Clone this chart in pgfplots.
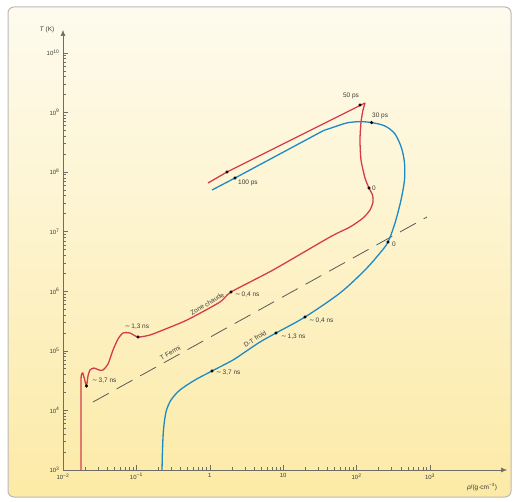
\documentclass[border=0pt]{standalone}
\usepackage{fontspec}
\setmainfont{Liberation Sans}
\newfontfamily\dejavu{DejaVu Sans}
\usepackage{pgfplots}
\pgfplotsset{compat=1.18}
\usetikzlibrary{arrows.meta}
\definecolor{redc}{RGB}{214,60,72}
\definecolor{bluec}{RGB}{30,138,196}
\definecolor{axc}{RGB}{110,110,100}
\definecolor{txt}{RGB}{60,60,55}
\definecolor{bgtop}{RGB}{254,251,238}
\definecolor{bgbot}{RGB}{252,234,166}
\newcommand{\ap}{{\dejavu ∼}\,}
\begin{document}
\begin{tikzpicture}[x=1pt,y=1pt]
\useasboundingbox (0,0) rectangle (517,501);
\fill[white] (0,0) rectangle (517,501);
\shade[top color=bgtop, bottom color=bgbot, rounded corners=6pt] (8,4) rectangle (511,494);
\draw[gray!55, line width=1pt, rounded corners=6pt] (8,4) rectangle (511,494);
\begin{axis}[
  scale only axis, width=444pt, height=440pt,
  at={(63pt,31pt)}, anchor=south west,
  xmode=log, ymode=log,
  xmin=1e-2, xmax=11190, ymin=1e3, ymax=2.415e10,
  axis x line=bottom, axis y line=left,
  axis line style={axc, line width=0.6pt, -{Latex[length=6pt,width=5pt]}},
  xtick={1e-2,1e-1,1,10,100,1000},
  xticklabels={10\textsuperscript{−2},10\textsuperscript{−1},1,10,10\textsuperscript{2},10\textsuperscript{3}},
  ytick={1e3,1e4,1e5,1e6,1e7,1e8,1e9,1e10},
  yticklabels={10\textsuperscript{3},10\textsuperscript{4},10\textsuperscript{5},10\textsuperscript{6},10\textsuperscript{7},10\textsuperscript{8},10\textsuperscript{9},10\textsuperscript{10}},
  minor xtick={2e-2,3e-2,4e-2,5e-2,6e-2,7e-2,8e-2,9e-2,0.2,0.3,0.4,0.5,0.6,0.7,0.8,0.9,2,3,4,5,6,7,8,9,20,30,40,50,60,70,80,90,200,300,400,500,600,700,800,900},
  minor ytick={2e3,3e3,4e3,5e3,6e3,7e3,8e3,9e3,2e4,3e4,4e4,5e4,6e4,7e4,8e4,9e4,2e5,3e5,4e5,5e5,6e5,7e5,8e5,9e5,2e6,3e6,4e6,5e6,6e6,7e6,8e6,9e6,2e7,3e7,4e7,5e7,6e7,7e7,8e7,9e7,2e8,3e8,4e8,5e8,6e8,7e8,8e8,9e8,2e9,3e9,4e9,5e9,6e9,7e9,8e9,9e9},
  tick align=inside, major tick length=5pt, minor tick length=3pt,
  tick style={axc, line width=0.5pt},
  tick label style={font=\fontsize{6}{7}\selectfont, text=txt},
  clip=false,
]
% T Fermi dashed line
\addplot[txt!85, line width=0.8pt, dash pattern=on 18pt off 9pt] coordinates {(0.02563,13830) (910.3,1.758e7)};
% red curve (hot zone)
\addplot[redc, line width=1.3pt, smooth, tension=0.4] coordinates {
(0.01758,1000) (0.01758,20000) (0.01770,37760) (0.01855,42420) (0.01963,33650) (0.02089,25650)
(0.02191,37760) (0.02333,47640) (0.02644,51420) (0.03094,47640) (0.03508,47640) (0.04105,60050)
(0.04800,103100) (0.05614,157800) (0.06568,198900) (0.08178,198900) (0.1051,170400) (0.1532,184100)
(0.2304,223400) (0.4892,328700) (1.377,658800) (1.945,969600) (7.261,2268000) (43.41,8.118e6)
(81.32,1.195e7) (122.3,1.691e7) (152.2,2.304e7) (167.3,3.138e7) (164.7,4.113e7) (147.5,5.389e7)
(130.1,7.931e7) (114.8,1.590e8) (111.2,3.443e8) (114.8,6.902e8) (122.3,1.097e9) (130.1,1.438e9)};
\addplot[redc, line width=1.3pt] coordinates {(130.1,1.438e9) (111.2,1.306e9) (1.715,1.0e8) (0.9451,6.538e7)};
% blue curve (cold D-T)
\addplot[bluec, line width=1.3pt, smooth, tension=0.5] coordinates {
(0.2233,1000) (0.2268,2166) (0.2339,4690) (0.2530,9401) (0.2961,14950) (0.3926,21990) (0.6286,32370)
(1.072,45830) (2.071,70060) (3.017,95480) (4.831,140500) (7.977,198900) (19.82,369100) (59.39,932800)
(130.1,2.268e6) (208.3,4.375e6) (267.8,6.69e6) (333.6,1.394e7) (402.6,3.391e7) (449.3,7.341e7)
(449.3,1.416e8) (409.0,2.527e8) (333.6,4.342e8) (243.8,5.912e8) (160.0,6.750e8) (110.0,7.000e8)
(75.0,6.700e8) (56.0,6.000e8) (35.4,4.960e8)};
\addplot[bluec, line width=1.3pt] coordinates {(35.4,4.960e8) (2.204,7.931e7) (1.072,4.989e7)};
% dots
\addplot[only marks, mark=*, mark size=1.4pt, black] coordinates {
(0.02089,25650) (0.1051,170400) (1.945,969600) (147.5,5.389e7) (111.2,1.331e9) (1.715,1.0e8)
(1.072,45830) (7.977,198900) (19.82,369100) (267.8,6.69e6) (160.0,6.750e8) (2.204,7.931e7)};
\end{axis}
\begin{scope}[every node/.style={font=\fontsize{6.5}{7.5}\selectfont, text=txt, inner sep=1pt}]
\node[anchor=west] at (91,120) {\ap 3,7 ns};
\node at (137,174) {\ap 1,3 ns};
\node[anchor=west] at (234,206) {\ap 0,4 ns};
\node[anchor=south, rotate=31] at (209,194) {Zone~chaude};
\node[anchor=south, rotate=29] at (172,145) {T~Fermi};
\node[anchor=south, rotate=33] at (257,159) {D-T~froid};
\node[anchor=west] at (215,128) {\ap 3,7 ns};
\node[anchor=west] at (280,164) {\ap 1,3 ns};
\node[anchor=west] at (308,180) {\ap 0,4 ns};
\node[anchor=west] at (391,257) {0};
\node[anchor=west] at (371,313) {0};
\node[anchor=west] at (371,385) {30 ps};
\node at (351,405) {50 ps};
\node[anchor=west] at (237,318) {100 ps};
\node at (482,14) {\textit{ρ}/(g·cm\textsuperscript{−3})};
\node at (47,471) {\textit{T} (K)};
\end{scope}
\end{tikzpicture}
\end{document}
